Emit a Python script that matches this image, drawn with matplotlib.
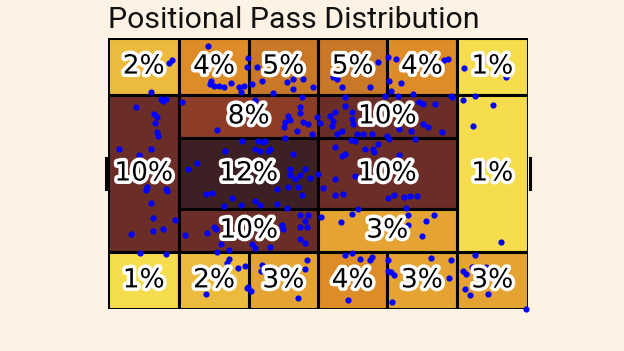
"""Positional pass distribution: juego-de-posicion zones on an Opta pitch, pass end points on top."""
import matplotlib; matplotlib.use("Agg")
import matplotlib.pyplot as plt
import matplotlib.patheffects as pe
from matplotlib.colors import LinearSegmentedColormap, Normalize
from matplotlib.patches import Rectangle

BG = "#fdf2e4"

# zone layout (opta 0-100 coords): x0, x1, y0, y1
zones = [
    (0, 17, 78.9, 100), (17, 33.5, 78.9, 100), (33.5, 50, 78.9, 100),
    (50, 66.5, 78.9, 100), (66.5, 83, 78.9, 100), (83, 100, 78.9, 100),
    (0, 17, 21.1, 78.9), (83, 100, 21.1, 78.9),
    (17, 50, 63.2, 78.9), (50, 83, 63.2, 78.9),
    (17, 50, 36.8, 63.2), (50, 83, 36.8, 63.2),
    (17, 50, 21.1, 36.8), (50, 83, 21.1, 36.8),
    (0, 17, 0, 21.1), (17, 33.5, 0, 21.1), (33.5, 50, 0, 21.1),
    (50, 66.5, 0, 21.1), (66.5, 83, 0, 21.1), (83, 100, 0, 21.1),
]
zone_pct = [2, 4, 5, 5, 4, 1,
            10, 1,
            8, 10,
            12, 10,
            10, 3,
            1, 2, 3, 4, 3, 3]

pass_x = [23.8, 15.2, 14.5, 24.5, 24.3, 25.2, 26.4, 27.6, 29.3, 31.2, 31.7, 33.1, 32.4, 10.2, 12.6,
          13.8, 13.1, 17.6, 6.7, 11.0, 11.7, 11.2, 11.7, 11.9, 26.0, 2.6, 10.2, 7.4, 27.9, 21.2,
          19.0, 31.9, 33.3, 35.5, 36.7, 34.3, 42.6, 44.0, 46.4, 44.0, 48.8, 39.3, 46.2, 35.0, 45.7,
          45.7, 42.9, 43.3, 42.1, 41.9, 46.4, 47.6, 49.8, 50.5, 45.0, 48.6, 42.1, 36.9, 53.6, 54.5,
          62.4, 56.4, 55.7, 52.9, 54.0, 53.6, 53.3, 56.4, 58.1, 58.1, 58.3, 55.7, 54.5, 59.3, 60.7,
          62.9, 57.9, 58.8, 64.3, 66.4, 66.0, 64.3, 66.7, 35.7, 37.4, 38.6, 38.1, 35.0, 36.2, 44.0,
          46.9, 43.3, 55.7, 56.4, 61.2, 63.1, 63.3, 54.0, 50.0, 68.6, 80.0, 81.0, 84.8, 94.8, 66.9,
          69.8, 67.4, 69.0, 72.6, 74.0, 75.0, 77.9, 81.7, 81.9, 84.5, 87.4, 91.7, 86.9, 75.0, 76.2,
          69.3, 72.1, 79.5, 66.9, 73.1, 69.3, 9.3, 9.0, 13.8, 14.0, 10.2, 10.7, 16.0, 13.1, 10.7,
          5.5, 18.3, 7.6, 13.8, 23.3, 24.8, 29.5, 27.6, 31.7, 23.6, 25.2, 25.7, 26.9, 28.8, 26.0,
          28.8, 28.3, 31.0, 32.6, 23.3, 33.1, 43.3, 44.5, 45.7, 48.1, 42.9, 45.2, 46.2, 40.2, 35.0,
          36.2, 40.2, 42.6, 54.0, 58.8, 51.2, 54.0, 56.0, 58.1, 59.5, 50.7, 55.5, 45.7, 47.6, 46.9,
          45.7, 47.4, 41.4, 41.7, 45.7, 46.9, 34.3, 35.0, 38.6, 56.4, 58.1, 60.0, 62.4, 62.9, 47.4,
          46.9, 36.7, 36.4, 33.3, 34.0, 45.2, 57.1, 66.7, 68.1, 70.5, 71.9, 73.6, 66.7, 71.0, 71.4,
          77.6, 75.7, 71.4, 74.8, 93.6, 76.9, 81.7, 87.4, 66.7, 67.4, 68.1, 81.2, 67.6, 84.5, 85.2,
          86.7, 90.0, 85.0, 86.2, 90.5, 99.5]
pass_y = [97.0, 91.9, 90.8, 84.1, 83.0, 82.3, 82.3, 81.9, 83.4, 81.9, 80.1, 89.3, 82.3, 80.1, 77.5,
          77.5, 76.8, 76.4, 74.5, 72.0, 70.8, 68.6, 65.3, 63.8, 66.1, 59.0, 59.0, 56.8, 58.3, 53.9,
          51.7, 62.0, 92.6, 89.3, 84.1, 83.0, 83.8, 84.9, 84.9, 81.2, 81.9, 79.7, 78.2, 77.1, 74.5,
          72.3, 71.2, 69.7, 69.0, 67.2, 69.0, 68.3, 70.8, 68.6, 65.7, 64.6, 63.1, 61.6, 85.6, 84.9,
          81.9, 78.2, 81.9, 71.2, 72.7, 69.4, 67.5, 74.9, 72.7, 70.1, 68.3, 65.7, 64.6, 64.6, 64.6,
          64.6, 62.4, 62.0, 60.9, 63.8, 78.6, 91.1, 93.0, 62.0, 62.0, 59.0, 58.3, 59.0, 58.3, 57.2,
          51.7, 51.7, 56.5, 57.2, 59.0, 59.0, 57.9, 59.8, 49.8, 92.3, 91.9, 92.3, 88.9, 85.6, 84.1,
          83.4, 80.4, 78.6, 79.3, 76.4, 75.6, 75.6, 78.6, 78.2, 77.1, 78.6, 75.3, 67.5, 68.3, 67.2,
          66.4, 65.7, 65.3, 62.7, 62.7, 56.8, 45.0, 43.9, 44.3, 43.5, 39.1, 33.6, 32.8, 29.5, 28.8,
          27.7, 27.3, 20.7, 20.3, 42.4, 42.8, 41.0, 38.0, 38.4, 28.0, 30.3, 29.5, 24.0, 21.8, 21.0,
          18.5, 17.0, 15.1, 15.9, 5.5, 7.7, 49.4, 48.0, 49.4, 48.3, 45.0, 45.0, 42.1, 44.3, 39.9,
          38.4, 38.7, 37.3, 48.0, 49.1, 44.6, 42.1, 42.4, 35.1, 36.9, 33.9, 32.1, 34.7, 34.7, 32.5,
          30.3, 30.3, 31.0, 29.5, 25.8, 24.4, 24.0, 22.5, 22.9, 19.9, 20.7, 18.5, 18.1, 19.2, 18.1,
          14.8, 16.2, 14.0, 8.1, 6.6, 4.1, 3.3, 14.0, 42.1, 41.3, 41.7, 41.7, 41.0, 37.3, 34.7,
          34.7, 32.5, 31.0, 26.9, 24.7, 18.8, 18.1, 19.9, 18.1, 13.7, 12.5, 11.4, 2.6, 14.0, 12.9,
          15.5, 15.5, 7.4, 5.2, 5.5, 0.0]

cmap = LinearSegmentedColormap.from_list(
    "pos", [(0, "#f5dd4e"), (0.09, "#ecbb3e"), (0.27, "#dd8c27"),
            (0.64, "#8c3c25"), (0.82, "#6b2d28"), (1, "#3d2023")])
norm = Normalize(vmin=1, vmax=12)

fig = plt.figure(figsize=(6.24, 3.51), dpi=100, facecolor=BG)
ax = fig.add_axes([108 / 624, 42 / 351, 420 / 624, 271 / 351])
ax.set_xlim(0, 100); ax.set_ylim(0, 100)
ax.axis("off")

for (x0, x1, y0, y1), v in zip(zones, zone_pct):
    ax.add_patch(Rectangle((x0, y0), x1 - x0, y1 - y0, facecolor=cmap(norm(v)),
                           edgecolor="black", lw=2.2, zorder=1))
    ax.text((x0 + x1) / 2, (y0 + y1) / 2, f"{v}%", ha="center", va="center",
            fontsize=19, color="black", zorder=4,
            path_effects=[pe.withStroke(linewidth=5, foreground="white")])

# goals
ax.plot([-0.4, -0.4], [44.2, 55.8], color="black", lw=2.2, clip_on=False, zorder=3)
ax.plot([100.4, 100.4], [44.2, 55.8], color="black", lw=2.2, clip_on=False, zorder=3)

ax.scatter(pass_x, pass_y, s=20, color="#0000ff", lw=0, zorder=3, clip_on=False)

fig.text(108 / 624, 1 - 28 / 351, "Positional Pass Distribution", fontsize=21.8,
         family=["Roboto", "DejaVu Sans"], color="#111111", ha="left", va="baseline")

fig.savefig("out.png", facecolor=BG)
